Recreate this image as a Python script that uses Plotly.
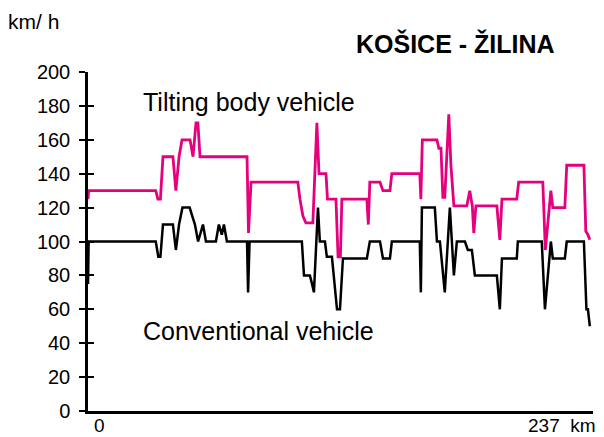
import plotly.graph_objects as go

# Tilting body vehicle: distance (km) and speed (km/h)
tilt_km = [0, 0.3, 32.0, 33.0, 34.2, 35.4, 40.1, 41.5, 43.0, 44.4, 48.2, 49.6, 51.0, 51.9, 52.9,
           75.1, 75.8, 77.0, 99.1, 100.1, 101.5, 102.9, 106.2, 108.1, 109.1, 112.4, 113.1, 117.1,
           118.1, 119.2, 119.9, 131.7, 132.4, 133.1, 137.9, 139.3, 142.6, 143.5, 156.7, 157.2,
           157.9, 164.8, 165.7, 166.7, 167.6, 168.5, 170.4, 171.4, 172.8, 178.9, 180.3, 181.5,
           182.2, 183.2, 193.1, 194.5, 195.5, 202.5, 203.4, 214.8, 216.0, 218.6, 219.5, 225.2,
           226.1, 234.2, 235.1, 236.1, 237.0]
tilt_speed = [125, 130, 130, 125, 125, 150, 150, 130, 150, 160, 160, 150, 170, 170, 150,
              150, 105, 135, 135, 125, 115, 111, 111, 170, 140, 140, 125, 125,
              91, 91, 125, 125, 110, 135, 135, 130, 130, 140, 140, 125,
              160, 160, 155, 155, 126, 126, 175, 145, 121, 121, 130, 121,
              105, 121, 121, 101, 125, 125, 135, 135, 95, 130, 120, 120,
              145, 145, 106, 104, 101]

# Conventional vehicle
conv_km = [0, 0.3, 32.0, 33.2, 34.2, 35.4, 40.1, 41.5, 43.0, 44.6, 48.0, 50.5, 52.0, 54.3, 55.7,
           60.4, 61.8, 63.2, 64.2, 65.6, 75.1, 75.6, 76.3, 101.0, 102.0, 104.8, 105.8, 106.7,
           108.6, 109.5, 111.9, 112.8, 115.2, 117.6, 119.0, 120.4, 131.7, 133.1, 137.9, 139.3,
           142.6, 143.5, 156.7, 157.2, 157.7, 163.8, 164.8, 166.2, 168.5, 170.9, 172.8, 174.2,
           178.0, 179.4, 181.3, 182.7, 193.1, 194.5, 195.5, 202.5, 203.0, 214.3, 215.8, 218.6,
           219.5, 225.2, 226.1, 234.2, 235.4, 236.1, 237.0]
conv_speed = [75, 100, 100, 91, 91, 110, 110, 95, 110, 120, 120, 110, 100, 110, 100,
              100, 110, 104, 110, 100, 100, 70, 100, 100, 80, 80, 75, 70,
              120, 100, 100, 91, 91, 60, 60, 90, 90, 100, 100, 90,
              90, 100, 100, 70, 120, 120, 100, 100, 70, 120, 80, 100,
              100, 95, 95, 80, 80, 60, 90, 90, 100, 100, 60, 100,
              90, 90, 100, 100, 60, 60, 50]

y_ticks = [0, 20, 40, 60, 80, 100, 120, 140, 160, 180, 200]

FONT = "Liberation Sans, Arial, sans-serif"
PINK = "#e5007e"

# the page adds an 8px body margin; figure is sized so the plot lands where the reference has it
OFF = 8
W, H = 604 - OFF, 437 - OFF
L, R, T, B = 88 - OFF, 11, 72 - OFF, 26

fig = go.Figure()
fig.add_trace(go.Scatter(x=tilt_km, y=tilt_speed, mode="lines",
                         line=dict(color=PINK, width=2.8), hoverinfo="skip", showlegend=False))
fig.add_trace(go.Scatter(x=conv_km, y=conv_speed, mode="lines",
                         line=dict(color="black", width=2.5), hoverinfo="skip", showlegend=False))
# invisible helper trace for the inner tick half
fig.add_trace(go.Scatter(x=[0], y=[0], yaxis="y2", mode="markers",
                         marker=dict(opacity=0), hoverinfo="skip", showlegend=False))

ann_specs = [
    ("km/ h", 7, 22, 21),
    ("<b>KOŠICE - ŽILINA</b>", 355, 44, 25),
    ("Tilting body vehicle", 142, 102, 25),
    ("Conventional vehicle", 142, 331, 25),
    ("0", 93, 425, 19),
    ("237  km", 527, 425, 19),
]
pw = W - L - R
ph = H - T - B
annotations = []
for text, px, py, size in ann_specs:
    fx = px - OFF
    fy = py - OFF
    annotations.append(dict(
        text=text, xref="paper", yref="paper",
        x=(fx - L) / pw, y=(H - B - fy) / ph,
        showarrow=False, xanchor="left", yanchor="middle", borderpad=0,
        font=dict(size=size, family=FONT, color="black")))

fig.update_layout(
    width=W, height=H,
    margin=dict(l=L, r=R, t=T, b=B, pad=0),
    paper_bgcolor="white", plot_bgcolor="white",
    font=dict(family=FONT, color="black"),
    xaxis=dict(range=[0, 238.5], showgrid=False, zeroline=False, showline=True,
               linecolor="black", linewidth=2.5, showticklabels=False, ticks=""),
    yaxis=dict(range=[0, 200], tickvals=y_ticks, showgrid=False, zeroline=False,
               showline=True, linecolor="black", linewidth=2.5, ticks="outside",
               ticklen=6, tickwidth=2, tickcolor="black",
               tickfont=dict(size=20, family=FONT), ticklabelstandoff=5),
    yaxis2=dict(range=[0, 200], tickvals=y_ticks, overlaying="y", side="left", anchor="x",
                showgrid=False, zeroline=False, showline=False, ticks="inside",
                ticklen=6, tickwidth=2, tickcolor="black", showticklabels=False),
    annotations=annotations,
)

fig.write_html("out.html")
